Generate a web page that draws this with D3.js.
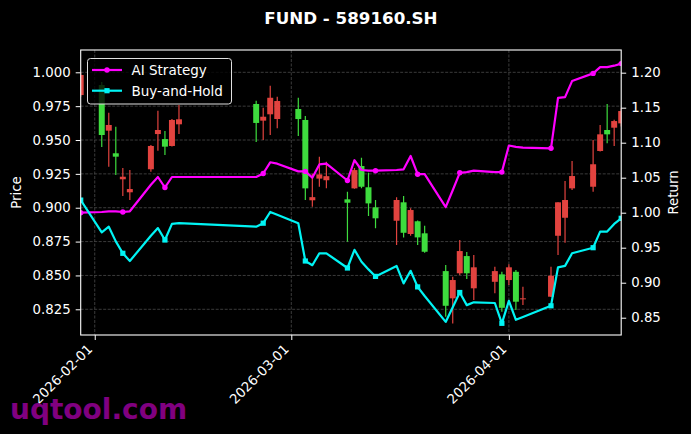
<!DOCTYPE html>
<html><head><meta charset="utf-8">
<script src="https://cdn.jsdelivr.net/npm/d3@7"></script>
<style>html,body{margin:0;padding:0;background:#000;} svg{display:block;}</style>
</head><body>
<script>
// ---------- data ----------
const dates = ["2026-01-30","2026-02-02","2026-02-03","2026-02-04","2026-02-05","2026-02-06",
"2026-02-09","2026-02-10","2026-02-11","2026-02-12","2026-02-13",
"2026-02-24","2026-02-25","2026-02-26","2026-02-27",
"2026-03-02","2026-03-03","2026-03-04","2026-03-05","2026-03-06",
"2026-03-09","2026-03-10","2026-03-11","2026-03-12","2026-03-13",
"2026-03-16","2026-03-17","2026-03-18","2026-03-19","2026-03-20",
"2026-03-23","2026-03-24","2026-03-25","2026-03-26","2026-03-27",
"2026-03-30","2026-03-31","2026-04-01","2026-04-02","2026-04-03",
"2026-04-07","2026-04-08","2026-04-09","2026-04-10",
"2026-04-13","2026-04-14","2026-04-15","2026-04-16","2026-04-17"];
const openP  = [0.9832,0.9906,0.9569,0.9402,0.9210,0.9114,0.9284,0.9544,0.9507,0.9456,0.9616,
0.9766,0.9643,0.9690,0.9655,0.9729,0.9648,0.9055,0.9215,0.9203,0.9062,0.9143,0.9308,0.9151,0.9003,
0.8904,0.9040,0.8806,0.8900,0.8811,0.8532,0.8331,0.8516,0.8643,0.8405,0.8453,0.8508,0.8466,0.8527,0.8327,
0.8343,0.8793,0.8926,0.9143,0.9155,0.9419,0.9574,0.9591,0.9623];
const highP  = [1.0000,0.9928,0.9702,0.9598,0.9293,0.9278,0.9463,0.9716,0.9566,0.9655,0.9758,
0.9790,0.9739,0.9901,0.9820,0.9812,0.9677,0.9250,0.9377,0.9340,0.9118,0.9293,0.9369,0.9259,0.9057,
0.9077,0.9086,0.8996,0.8905,0.8867,0.8577,0.8490,0.8761,0.8673,0.8651,0.8564,0.8527,0.8582,0.8540,0.8417,
0.8564,0.9040,0.9197,0.9345,0.9500,0.9611,0.9766,0.9650,0.9735];
const lowP   = [0.9820,0.9448,0.9303,0.9241,0.9086,0.9057,0.9266,0.9421,0.9389,0.9452,0.9544,
0.9485,0.9500,0.9537,0.9586,0.9530,0.9057,0.9007,0.9155,0.9143,0.8749,0.9140,0.9143,0.8939,0.8848,
0.8725,0.8781,0.8793,0.8725,0.8668,0.8195,0.8146,0.8503,0.8473,0.8318,0.8368,0.8232,0.8429,0.8244,0.8281,
0.8340,0.8651,0.8742,0.9131,0.9118,0.9415,0.9476,0.9456,0.9600];
const closeP = [0.9980,0.9537,0.9611,0.9377,0.9229,0.9138,0.9456,0.9574,0.9451,0.9648,0.9653,
0.9626,0.9672,0.9812,0.9788,0.9655,0.9143,0.9078,0.9246,0.9233,0.9037,0.9278,0.9155,0.9032,0.8922,
0.9057,0.8815,0.8983,0.8781,0.8675,0.8276,0.8466,0.8680,0.8516,0.8560,0.8532,0.8261,0.8560,0.8306,0.8331,
0.8498,0.9040,0.9057,0.9234,0.9321,0.9542,0.9542,0.9640,0.9714];
const aiStrategy = [1.000,1.001,1.002,1.002,1.001,1.002,1.040,1.051,1.036,1.051,1.051,
1.051,1.056,1.072,1.070,1.059,1.059,1.050,1.069,1.070,1.046,1.075,1.061,1.060,1.060,
1.061,1.062,1.081,1.055,1.055,1.008,1.032,1.057,1.058,1.060,1.058,1.058,1.096,1.094,1.093,
1.092,1.164,1.165,1.188,1.199,1.208,1.208,1.210,1.213];
const buyHold = [1.018,0.972,0.980,0.959,0.942,0.931,0.967,0.978,0.961,0.984,0.985,
0.980,0.985,1.001,0.997,0.985,0.931,0.925,0.942,0.942,0.921,0.947,0.930,0.919,0.909,
0.924,0.899,0.917,0.894,0.881,0.844,0.865,0.886,0.868,0.872,0.871,0.842,0.874,0.847,0.851,
0.867,0.922,0.924,0.942,0.950,0.973,0.973,0.984,0.992];
const priceTicks = [0.825,0.850,0.875,0.900,0.925,0.950,0.975,1.000];
const returnTicks = [0.85,0.90,0.95,1.00,1.05,1.10,1.15,1.20];
const dateTicks = ["2026-02-01","2026-03-01","2026-04-01"];
const seriesNames = ["AI Strategy","Buy-and-Hold"];
const titleText = "FUND - 589160.SH";

// ---------- layout ----------
const W = 691, H = 434;
const L = 80.7, R = 621.2, T = 50, B = 335;
const FONT = "DejaVu Sans, sans-serif";
const parse = d3.utcParse("%Y-%m-%d");
const dts = dates.map(parse);

const x = d3.scaleUtc().domain([parse("2026-01-30"), parse("2026-04-17")]).range([L, R]);
const yL = d3.scaleLinear().domain([0.80602, 1.01647]).range([B, T]);
const yR = d3.scaleLinear().domain([0.8253, 1.2324]).range([B, T]);

const svg = d3.select("body").append("svg").attr("width", W).attr("height", H)
  .style("background", "#000");
svg.append("rect").attr("width", W).attr("height", H).attr("fill", "#000");

svg.append("defs").append("clipPath").attr("id", "clip")
  .append("rect").attr("x", L).attr("y", T).attr("width", R - L).attr("height", B - T);

// grid
const grid = svg.append("g").attr("stroke", "#4a4a4a").attr("stroke-width", 0.8)
  .attr("stroke-dasharray", "3,1.5");
grid.selectAll("line.h").data(priceTicks).join("line")
  .attr("x1", L).attr("x2", R).attr("y1", d => yL(d)).attr("y2", d => yL(d));
grid.selectAll("line.v").data(dateTicks).join("line")
  .attr("y1", T).attr("y2", B).attr("x1", d => x(parse(d))).attr("x2", d => x(parse(d)));

// candles
const UP = "#e2433f", DOWN = "#3edc3e";
const day = 86400000;
const cg = svg.append("g").attr("clip-path", "url(#clip)");
const candles = cg.selectAll("g.c").data(dates.map((d, i) => i)).join("g");
candles.append("line")
  .attr("x1", i => x(dts[i])).attr("x2", i => x(dts[i]))
  .attr("y1", i => yL(highP[i])).attr("y2", i => yL(lowP[i]))
  .attr("stroke", i => closeP[i] >= openP[i] ? UP : DOWN).attr("stroke-width", 1.2);
candles.append("rect")
  .attr("x", i => { const w = x(new Date(+dts[i] + 0.85 * day)) - x(dts[i]); return x(dts[i]) - w / 2; })
  .attr("width", i => x(new Date(+dts[i] + 0.85 * day)) - x(dts[i]))
  .attr("y", i => yL(Math.max(openP[i], closeP[i])))
  .attr("height", i => Math.max(1, Math.abs(yL(openP[i]) - yL(closeP[i]))))
  .attr("fill", i => closeP[i] >= openP[i] ? UP : DOWN);

// lines
const MAG = "#ff00ff", CYA = "#00f4f4";
const lg = svg.append("g").attr("clip-path", "url(#clip)");
const line = arr => d3.line().x((d, i) => x(dts[i])).y(d => yR(d))(arr);
lg.append("path").attr("d", line(aiStrategy)).attr("fill", "none").attr("stroke", MAG)
  .attr("stroke-width", 2.2).attr("stroke-linejoin", "round");
lg.append("path").attr("d", line(buyHold)).attr("fill", "none").attr("stroke", CYA)
  .attr("stroke-width", 2.2).attr("stroke-linejoin", "round");
const mk = dates.map((d, i) => i).filter(i => i % 4 === 0);
lg.selectAll("circle.m").data(mk).join("circle")
  .attr("cx", i => x(dts[i])).attr("cy", i => yR(aiStrategy[i])).attr("r", 2.7).attr("fill", MAG);
lg.selectAll("rect.m").data(mk).join("rect")
  .attr("x", i => x(dts[i]) - 2.6).attr("y", i => yR(buyHold[i]) - 2.6)
  .attr("width", 5.2).attr("height", 5.2).attr("fill", CYA);

// axes
function styleAxis(g) {
  g.select(".domain").remove();
  g.selectAll(".tick line").attr("stroke", "#fff").attr("stroke-width", 1);
  g.selectAll(".tick text").attr("fill", "#fff").style("font-family", FONT).style("font-size", "13.3px");
}
svg.append("g").attr("transform", `translate(${L},0)`)
  .call(d3.axisLeft(yL).tickValues(priceTicks).tickFormat(d3.format(".3f")).tickSize(5).tickPadding(5))
  .call(styleAxis);
svg.append("g").attr("transform", `translate(${R},0)`)
  .call(d3.axisRight(yR).tickValues(returnTicks).tickFormat(d3.format(".2f")).tickSize(5).tickPadding(5))
  .call(styleAxis);
const xa = svg.append("g").attr("transform", `translate(0,${B})`)
  .call(d3.axisBottom(x).tickValues(dateTicks.map(parse)).tickFormat(d3.utcFormat("%Y-%m-%d")).tickSize(5))
  .call(styleAxis);
xa.selectAll(".tick text")
  .attr("text-anchor", "end").attr("dy", null).attr("y", null)
  .attr("transform", "translate(-2,15) rotate(-45)");

// spines
svg.append("rect").attr("x", L).attr("y", T).attr("width", R - L).attr("height", B - T)
  .attr("fill", "none").attr("stroke", "#fff").attr("stroke-width", 1.1);

// axis labels
svg.append("text").attr("transform", `translate(21,${(T + B) / 2}) rotate(-90)`)
  .attr("text-anchor", "middle").attr("fill", "#fff").style("font-family", FONT).style("font-size", "13.3px")
  .text("Price");
svg.append("text").attr("transform", `translate(677.5,${(T + B) / 2}) rotate(-90)`)
  .attr("text-anchor", "middle").attr("fill", "#fff").style("font-family", FONT).style("font-size", "13.3px")
  .text("Return");

// title
svg.append("text").attr("x", (L + R) / 2).attr("y", 24).attr("text-anchor", "middle")
  .attr("fill", "#fff").style("font-family", FONT).style("font-size", "16.7px").style("font-weight", "bold")
  .text(titleText);

// legend
const leg = svg.append("g");
leg.append("rect").attr("x", 87.5).attr("y", 58.5).attr("width", 144).attr("height", 45.5)
  .attr("rx", 3).attr("fill", "#000").attr("fill-opacity", 0.8).attr("stroke", "#e0e0e0").attr("stroke-width", 1);
const legY = [70, 90.7];
[MAG, CYA].forEach((c, k) => {
  leg.append("line").attr("x1", 92).attr("x2", 122).attr("y1", legY[k]).attr("y2", legY[k])
    .attr("stroke", c).attr("stroke-width", 2.2);
  if (k === 0) leg.append("circle").attr("cx", 107).attr("cy", legY[k]).attr("r", 2.7).attr("fill", c);
  else leg.append("rect").attr("x", 104.4).attr("y", legY[k] - 2.6).attr("width", 5.2).attr("height", 5.2).attr("fill", c);
  leg.append("text").attr("x", 131.5).attr("y", legY[k] + 5).attr("fill", "#fff")
    .style("font-family", FONT).style("font-size", "13.5px").text(seriesNames[k]);
});

// watermark
svg.append("text").attr("x", 10).attr("y", 419).attr("fill", "#800080")
  .style("font-family", FONT).style("font-size", "28px").style("font-weight", "bold")
  .text("uqtool.com");
</script>
</body></html>
